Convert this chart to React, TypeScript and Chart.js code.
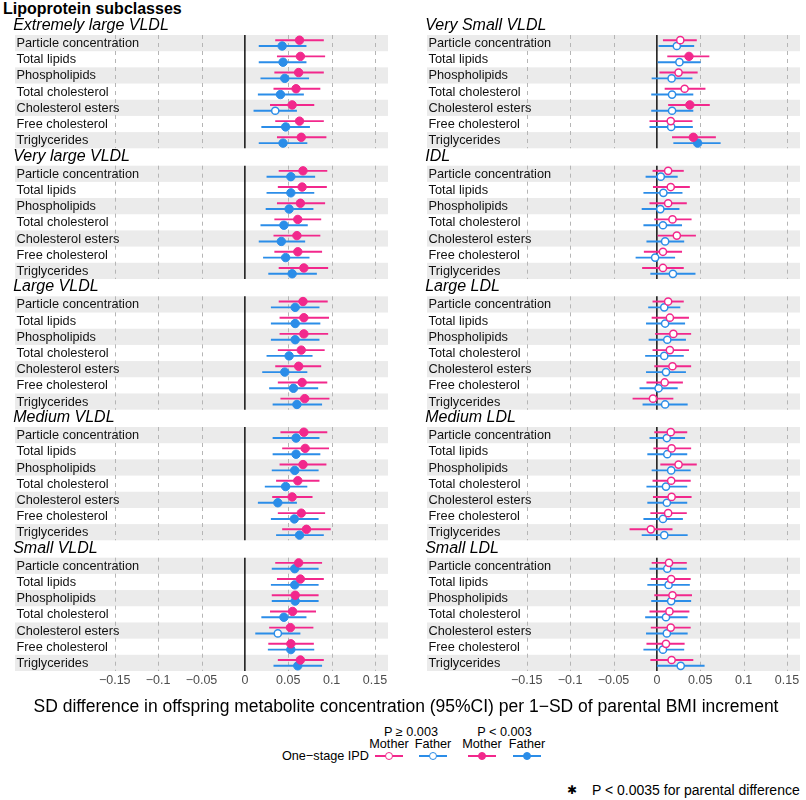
import React, { useEffect, useRef } from "react";
import { Chart, registerables } from "chart.js";

Chart.register(...registerables);

const FONT = '"Liberation Sans", Arial, Helvetica, sans-serif';
const PINK = "#F2288C";
const BLUE = "#2B8DE8";

const METRICS = [
  "Particle concentration",
  "Total lipids",
  "Phospholipids",
  "Total cholesterol",
  "Cholesterol esters",
  "Free cholesterol",
  "Triglycerides",
];
const PANELS_LEFT = ["Extremely large VLDL", "Very large VLDL", "Large VLDL", "Medium VLDL", "Small VLDL"];
const PANELS_RIGHT = ["Very Small VLDL", "IDL", "Large LDL", "Medium LDL", "Small LDL"];
const TICKS = [-0.15, -0.1, -0.05, 0, 0.05, 0.1, 0.15];
const X_MIN = -0.265;
const X_MAX = 0.165;

// ---------- Left column (VLDL) ----------
const LEFT_MOTHER_EST = [
  0.063, 0.064, 0.062, 0.059, 0.0545, 0.063, 0.065,
  0.067, 0.066, 0.064, 0.061, 0.06, 0.061, 0.068,
  0.067, 0.068, 0.068, 0.065, 0.062, 0.066, 0.069,
  0.068, 0.0695, 0.067, 0.061, 0.0545, 0.065, 0.071,
  0.062, 0.064, 0.058, 0.055, 0.0525, 0.053, 0.064,
];
const LEFT_MOTHER_LO = [
  0.035, 0.037, 0.034, 0.033, 0.029, 0.035, 0.037,
  0.039, 0.038, 0.037, 0.034, 0.033, 0.034, 0.039,
  0.039, 0.04, 0.04, 0.038, 0.035, 0.038, 0.041,
  0.041, 0.043, 0.04, 0.036, 0.0315, 0.038, 0.043,
  0.035, 0.037, 0.031, 0.029, 0.028, 0.027, 0.038,
];
const LEFT_MOTHER_HI = [
  0.091, 0.0925, 0.091, 0.087, 0.08, 0.091, 0.094,
  0.095, 0.0945, 0.0925, 0.088, 0.087, 0.089, 0.096,
  0.0955, 0.097, 0.096, 0.092, 0.088, 0.095, 0.0975,
  0.095, 0.097, 0.094, 0.086, 0.078, 0.0925, 0.099,
  0.089, 0.091, 0.085, 0.082, 0.079, 0.0795, 0.091,
];
const LEFT_FATHER_EST = [
  0.043, 0.044, 0.046, 0.041, 0.035, 0.047, 0.044,
  0.053, 0.053, 0.051, 0.045, 0.042, 0.047, 0.0545,
  0.058, 0.058, 0.058, 0.051, 0.046, 0.056, 0.06,
  0.059, 0.059, 0.0575, 0.047, 0.038, 0.057, 0.063,
  0.0575, 0.0575, 0.058, 0.045, 0.038, 0.053, 0.061,
];
const LEFT_FATHER_LO = [
  0.016, 0.016, 0.018, 0.015, 0.01, 0.019, 0.016,
  0.025, 0.025, 0.024, 0.018, 0.016, 0.021, 0.027,
  0.03, 0.03, 0.03, 0.025, 0.02, 0.028, 0.032,
  0.032, 0.032, 0.031, 0.023, 0.015, 0.03, 0.036,
  0.031, 0.03, 0.031, 0.019, 0.012, 0.0265, 0.033,
];
const LEFT_FATHER_HI = [
  0.071, 0.071, 0.074, 0.068, 0.06, 0.075, 0.072,
  0.081, 0.08, 0.079, 0.0725, 0.0695, 0.0745, 0.083,
  0.086, 0.087, 0.086, 0.078, 0.072, 0.0845, 0.089,
  0.086, 0.087, 0.085, 0.072, 0.06, 0.085, 0.091,
  0.085, 0.085, 0.085, 0.071, 0.064, 0.08, 0.089,
];
// 1 = P < 0.003 (filled), 0 = P >= 0.003 (hollow)
const LEFT_MOTHER_SIG = [
  1, 1, 1, 1, 1, 1, 1,
  1, 1, 1, 1, 1, 1, 1,
  1, 1, 1, 1, 1, 1, 1,
  1, 1, 1, 1, 1, 1, 1,
  1, 1, 1, 1, 1, 1, 1,
];
const LEFT_FATHER_SIG = [
  1, 1, 1, 1, 0, 1, 1,
  1, 1, 1, 1, 1, 1, 1,
  1, 1, 1, 1, 1, 1, 1,
  1, 1, 1, 1, 1, 1, 1,
  1, 1, 1, 1, 0, 1, 1,
];

// ---------- Right column (VS VLDL, IDL, LDL) ----------
const RIGHT_MOTHER_EST = [
  0.027, 0.037, 0.025, 0.032, 0.038, 0.016, 0.042,
  0.013, 0.016, 0.013, 0.018, 0.023, 0.007, 0.007,
  0.013, 0.015, 0.019, 0.015, 0.018, 0.009, -0.0045,
  0.016, 0.017, 0.025, 0.0165, 0.017, 0.013, -0.007,
  0.014, 0.0165, 0.018, 0.0145, 0.016, 0.0105, 0.017,
];
const RIGHT_MOTHER_LO = [
  0.007, 0.012, 0.003, 0.009, 0.013, -0.0085, 0.0175,
  -0.005, -0.0045, -0.0085, -0.003, 0.001, -0.015, -0.017,
  -0.005, -0.006, -0.002, -0.005, -0.003, -0.012, -0.028,
  -0.003, -0.004, 0.004, -0.005, -0.0045, -0.0075, -0.0315,
  -0.006, -0.007, -0.003, -0.0085, -0.007, -0.012, -0.0075,
];
const RIGHT_MOTHER_HI = [
  0.046, 0.0605, 0.047, 0.056, 0.061, 0.041, 0.068,
  0.031, 0.038, 0.0345, 0.04, 0.045, 0.029, 0.031,
  0.031, 0.037, 0.0395, 0.037, 0.0395, 0.03, 0.019,
  0.035, 0.0395, 0.046, 0.039, 0.04, 0.0345, 0.018,
  0.0345, 0.039, 0.0405, 0.0375, 0.039, 0.032, 0.042,
];
const RIGHT_FATHER_EST = [
  0.023, 0.026, 0.017, 0.0175, 0.0175, 0.0165, 0.047,
  0.0045, 0.0075, 0.004, 0.007, 0.0095, -0.002, 0.0185,
  0.0085, 0.0095, 0.012, 0.0085, 0.0105, 0.002, 0.0095,
  0.0115, 0.012, 0.0165, 0.0105, 0.0115, 0.007, 0.0085,
  0.012, 0.0135, 0.0165, 0.0105, 0.0115, 0.007, 0.0275,
];
const RIGHT_FATHER_LO = [
  0.002, 0.001, -0.006, -0.0065, -0.0065, -0.0085, 0.019,
  -0.013, -0.0155, -0.0175, -0.0155, -0.012, -0.0245, -0.0075,
  -0.01, -0.0125, -0.0095, -0.0135, -0.0125, -0.02, -0.0165,
  -0.0085, -0.011, -0.006, -0.012, -0.011, -0.0155, -0.0175,
  -0.0085, -0.011, -0.0065, -0.0135, -0.0125, -0.0155, 0.0,
];
const RIGHT_FATHER_HI = [
  0.043, 0.0505, 0.041, 0.042, 0.042, 0.0415, 0.0735,
  0.024, 0.0295, 0.026, 0.029, 0.0315, 0.021, 0.0445,
  0.027, 0.0325, 0.0335, 0.031, 0.0335, 0.024, 0.0355,
  0.0325, 0.035, 0.039, 0.035, 0.035, 0.03, 0.0355,
  0.0345, 0.038, 0.0395, 0.0355, 0.0355, 0.0315, 0.055,
];
const RIGHT_MOTHER_SIG = [
  0, 1, 0, 0, 1, 0, 1,
  0, 0, 0, 0, 0, 0, 0,
  0, 0, 0, 0, 0, 0, 0,
  0, 0, 0, 0, 0, 0, 0,
  0, 0, 0, 0, 0, 0, 0,
];
const RIGHT_FATHER_SIG = [
  0, 0, 0, 0, 0, 0, 1,
  0, 0, 0, 0, 0, 0, 0,
  0, 0, 0, 0, 0, 0, 0,
  0, 0, 0, 0, 0, 0, 0,
  0, 0, 0, 0, 0, 0, 0,
];

// layout helpers (row units)
const ROWS = METRICS.length;
const GAP = 1.073;
const Y_MAX = PANELS_LEFT.length * ROWS + (PANELS_LEFT.length - 1) * GAP;
const OFFSET = 0.18;
const panelTop = (p: number) => p * (ROWS + GAP);
const rowCenter = (i: number) => panelTop(Math.floor(i / ROWS)) + (i % ROWS) + 0.5;

const fmtTick = (v: number) => {
  if (Math.abs(v) < 1e-9) return "0";
  const s = String(Math.round(Math.abs(v) * 100) / 100);
  return v < 0 ? "\u2212" + s : s;
};

const forestPlugin = {
  id: "forest",
  beforeDatasetsDraw(chart: any) {
    const { ctx, chartArea } = chart;
    const xs = chart.scales.x;
    const ys = chart.scales.y;
    const panels: string[] = chart.options.plugins.forest.panels;
    ctx.save();
    panels.forEach((title, p) => {
      const top = ys.getPixelForValue(panelTop(p));
      const bottom = ys.getPixelForValue(panelTop(p) + ROWS);
      // bands
      for (let r = 0; r < ROWS; r++) {
        if (r % 2 === 0) {
          const y0 = ys.getPixelForValue(panelTop(p) + r);
          const y1 = ys.getPixelForValue(panelTop(p) + r + 1);
          ctx.fillStyle = "#EBEBEB";
          ctx.fillRect(chartArea.left, y0, chartArea.right - chartArea.left, y1 - y0);
        }
      }
      // dashed grid
      ctx.strokeStyle = "#B5B5B5";
      ctx.lineWidth = 1;
      ctx.setLineDash([4, 4]);
      TICKS.forEach((t) => {
        if (t === 0) return;
        const x = Math.round(xs.getPixelForValue(t)) + 0.5;
        ctx.beginPath();
        ctx.moveTo(x, top);
        ctx.lineTo(x, bottom);
        ctx.stroke();
      });
      ctx.setLineDash([]);
      // metric labels
      ctx.fillStyle = "#111";
      ctx.font = `12.75px ${FONT}`;
      ctx.textBaseline = "middle";
      ctx.textAlign = "left";
      METRICS.forEach((m, r) => {
        ctx.fillText(m, chartArea.left + 1.5, ys.getPixelForValue(panelTop(p) + r + 0.5) + 0.5);
      });
      // zero line
      const x0 = xs.getPixelForValue(0);
      ctx.strokeStyle = "#000";
      ctx.lineWidth = 1.4;
      ctx.beginPath();
      ctx.moveTo(x0, top);
      ctx.lineTo(x0, bottom);
      ctx.stroke();
      // panel title
      ctx.fillStyle = "#000";
      ctx.font = `italic 16px ${FONT}`;
      ctx.fillText(title, chartArea.left - 1.8, top - 9.5);
    });
    // confidence intervals
    chart.data.datasets.forEach((ds: any, d: number) => {
      const meta = chart.getDatasetMeta(d);
      ctx.strokeStyle = ds.borderColor;
      ctx.lineWidth = 1.9;
      meta.data.forEach((pt: any, i: number) => {
        const xl = xs.getPixelForValue(ds.lo[i]);
        const xh = xs.getPixelForValue(ds.hi[i]);
        ctx.beginPath();
        ctx.moveTo(xl, pt.y);
        ctx.lineTo(xh, pt.y);
        ctx.stroke();
      });
    });
    ctx.restore();
  },
};

function makeChart(
  canvas: HTMLCanvasElement,
  panels: string[],
  mEst: number[], mLo: number[], mHi: number[], mSig: number[],
  fEst: number[], fLo: number[], fHi: number[], fSig: number[],
  padLeft: number, padRight: number
) {
  const mkDs = (label: string, color: string, est: number[], lo: number[], hi: number[], sig: number[], off: number) => ({
    label,
    data: est.map((v, i) => ({ x: v, y: rowCenter(i) + off })),
    lo,
    hi,
    borderColor: color,
    backgroundColor: color,
    pointBackgroundColor: sig.map((s) => (s ? color : "#FFFFFF")),
    pointBorderColor: color,
    pointBorderWidth: sig.map((s) => (s ? 1 : 1.5)),
    pointRadius: sig.map((s) => (s ? 4.2 : 3.6)),
    pointHoverRadius: 4.2,
    clip: false,
  });
  return new Chart(canvas, {
    type: "scatter",
    data: {
      datasets: [
        mkDs("Mother", PINK, mEst, mLo, mHi, mSig, -OFFSET),
        mkDs("Father", BLUE, fEst, fLo, fHi, fSig, OFFSET),
      ] as any,
    },
    options: {
      animation: false,
      responsive: false,
      maintainAspectRatio: false,
      layout: { padding: { left: padLeft, right: padRight, top: 35, bottom: 0 } },
      events: [],
      scales: {
        x: {
          type: "linear",
          min: X_MIN,
          max: X_MAX,
          position: "bottom",
          grid: { display: false, drawTicks: false },
          border: { display: false },
          afterBuildTicks: (axis: any) => {
            axis.ticks = TICKS.map((v) => ({ value: v }));
          },
          afterFit: (axis: any) => {
            axis.height = 29;
          },
          ticks: {
            autoSkip: false,
            maxRotation: 0,
            padding: 2,
            color: "#4D4D4D",
            font: { family: FONT, size: 12.5 },
            callback: (v: any) => fmtTick(Number(v)),
          },
        },
        y: { type: "linear", min: 0, max: Y_MAX, reverse: true, display: false },
      },
      plugins: {
        legend: { display: false },
        tooltip: { enabled: false },
        forest: { panels },
      } as any,
    },
    plugins: [forestPlugin],
  });
}

const abs = (left: number, top: number, extra: React.CSSProperties = {}): React.CSSProperties => ({
  position: "absolute",
  left,
  top,
  whiteSpace: "nowrap",
  ...extra,
});

function LegendKey({ cx, cy, color, filled }: { cx: number; cy: number; color: string; filled: boolean }) {
  return (
    <>
      <div style={abs(cx - 14, cy - 0.95, { width: 28, height: 1.9, background: color })} />
      <div
        style={abs(cx - 4.2, cy - 4.2, {
          width: 8.4,
          height: 8.4,
          boxSizing: "border-box",
          borderRadius: "50%",
          background: filled ? color : "#fff",
          border: `${filled ? 1 : 1.5}px solid ${color}`,
        })}
      />
    </>
  );
}

export default function App() {
  const leftRef = useRef<HTMLCanvasElement>(null);
  const rightRef = useRef<HTMLCanvasElement>(null);

  useEffect(() => {
    const c1 = makeChart(
      leftRef.current!, PANELS_LEFT,
      LEFT_MOTHER_EST, LEFT_MOTHER_LO, LEFT_MOTHER_HI, LEFT_MOTHER_SIG,
      LEFT_FATHER_EST, LEFT_FATHER_LO, LEFT_FATHER_HI, LEFT_FATHER_SIG,
      15, 12
    );
    const c2 = makeChart(
      rightRef.current!, PANELS_RIGHT,
      RIGHT_MOTHER_EST, RIGHT_MOTHER_LO, RIGHT_MOTHER_HI, RIGHT_MOTHER_SIG,
      RIGHT_FATHER_EST, RIGHT_FATHER_LO, RIGHT_FATHER_HI, RIGHT_FATHER_SIG,
      27, 6
    );
    return () => {
      c1.destroy();
      c2.destroy();
    };
  }, []);

  const legendText: React.CSSProperties = { fontSize: 12.7, lineHeight: "14px", color: "#000" };

  return (
    <div
      style={{
        position: "absolute",
        left: 0,
        top: 0,
        width: 806,
        height: 800,
        background: "#fff",
        fontFamily: FONT,
        overflow: "hidden",
      }}
    >
      <div style={abs(3, -1, { fontWeight: "bold", fontSize: 16, lineHeight: "20px" })}>Lipoprotein subclasses</div>
      <canvas ref={leftRef} width={400} height={700} style={abs(0, 0, { width: 400, height: 700 })} />
      <canvas ref={rightRef} width={406} height={700} style={abs(400, 0, { width: 406, height: 700 })} />

      <div style={abs(6, 696, { width: 800, textAlign: "center", fontSize: 17.5, lineHeight: "20px" })}>
        SD difference in offspring metabolite concentration (95%CI) per 1{"\u2212"}SD of parental BMI increment
      </div>

      <div style={abs(361, 725, { ...legendText, width: 100, textAlign: "center" })}>P {"\u2265"} 0.003</div>
      <div style={abs(454.5, 725, { ...legendText, width: 100, textAlign: "center" })}>P {"<"} 0.003</div>
      <div style={abs(359, 737, { ...legendText, width: 60, textAlign: "center" })}>Mother</div>
      <div style={abs(403, 737, { ...legendText, width: 60, textAlign: "center" })}>Father</div>
      <div style={abs(452, 737, { ...legendText, width: 60, textAlign: "center" })}>Mother</div>
      <div style={abs(497, 737, { ...legendText, width: 60, textAlign: "center" })}>Father</div>
      <div style={abs(209, 749, { ...legendText, width: 160, textAlign: "right" })}>One{"\u2212"}stage IPD</div>
      <LegendKey cx={389} cy={756} color={PINK} filled={false} />
      <LegendKey cx={433} cy={756} color={BLUE} filled={false} />
      <LegendKey cx={482} cy={756} color={PINK} filled={true} />
      <LegendKey cx={527} cy={756} color={BLUE} filled={true} />

      <div style={abs(567, 782, { fontSize: 12, lineHeight: "16px", fontFamily: '"DejaVu Sans", sans-serif' })}>{"\u2731"}</div>
      <div style={abs(592, 782, { fontSize: 14, lineHeight: "17px" })}>P {"<"} 0.0035 for parental difference</div>
    </div>
  );
}
